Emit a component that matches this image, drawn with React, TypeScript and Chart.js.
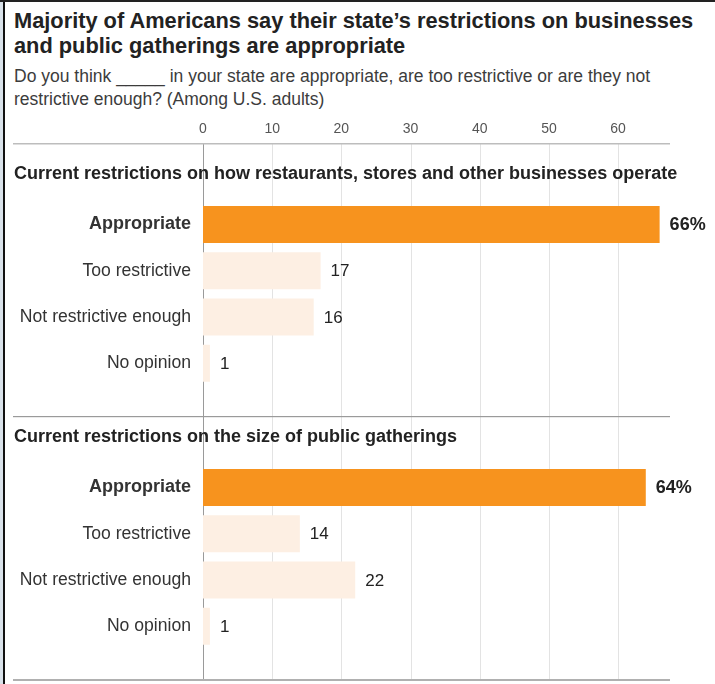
import React, { useEffect, useRef } from 'react';
import { Chart, registerables } from 'chart.js';

Chart.register(...registerables);

const titleLines = [
  'Majority of Americans say their state’s restrictions on businesses',
  'and public gatherings are appropriate',
];
const subtitleLines = [
  'Do you think _____ in your state are appropriate, are too restrictive or are they not',
  'restrictive enough? (Among U.S. adults)',
];
const sectionTitles = [
  'Current restrictions on how restaurants, stores and other businesses operate',
  'Current restrictions on the size of public gatherings',
];
const categories = ['Appropriate', 'Too restrictive', 'Not restrictive enough', 'No opinion'];
const businessValues = [66, 17, 16, 1];
const gatheringValues = [64, 14, 22, 1];
const xTicks = [0, 10, 20, 30, 40, 50, 60];
const X_MAX = 67.5;

const FONT = '"Liberation Sans", Arial, sans-serif';
const ORANGE = '#F7931E';
const LIGHT = '#FDEFE3';

function makeConfig(section: number, values: number[], first: boolean): any {
  const labels = ['', ...categories];
  const data = [null, ...values];
  const colors = ['rgba(0,0,0,0)', ...values.map((_, i) => (i === 0 ? ORANGE : LIGHT))];

  const decor = {
    id: 'decor' + section,
    beforeDatasetsDraw(chart: any) {
      const { ctx, chartArea, scales } = chart;
      const xs = scales.x;
      const ys = scales.y;
      const top = first ? chartArea.top - 11 : 0;
      const bottom = first ? chart.height : chartArea.bottom + 30.5;
      ctx.save();
      xTicks.forEach((v) => {
        const px = Math.round(xs.getPixelForValue(v)) + 0.5;
        ctx.strokeStyle = v === 0 ? '#9a9a9a' : '#e3e3e3';
        ctx.lineWidth = 1;
        ctx.beginPath();
        ctx.moveTo(px, top);
        ctx.lineTo(px, bottom);
        ctx.stroke();
      });
      const right = chartArea.right;
      if (first) {
        ctx.fillStyle = '#bdbdbd';
        ctx.fillRect(13, top - 1, right - 13, 1.5);
      } else {
        ctx.fillStyle = '#9a9a9a';
        ctx.fillRect(13, 0, right - 13, 1.2);
        ctx.fillStyle = '#b0b0b0';
        ctx.fillRect(13, bottom - 1, right - 13, 2);
      }
      ctx.font = `bold 18px ${FONT}`;
      ctx.fillStyle = '#222';
      ctx.textBaseline = 'middle';
      ctx.textAlign = 'left';
      ctx.fillText(sectionTitles[section], 14, ys.getPixelForValue(0) - 4);
      ctx.restore();
    },
    afterDatasetsDraw(chart: any) {
      const { ctx } = chart;
      const meta = chart.getDatasetMeta(0);
      ctx.save();
      ctx.textBaseline = 'middle';
      ctx.textAlign = 'left';
      ctx.fillStyle = '#222';
      values.forEach((v, i) => {
        const el = meta.data[i + 1];
        if (!el) return;
        ctx.font = i === 0 ? `bold 18px ${FONT}` : `17px ${FONT}`;
        ctx.fillText(i === 0 ? `${v}%` : `${v}`, el.x + 10, el.y + 1);
      });
      ctx.restore();
    },
  };

  return {
    type: 'bar',
    data: {
      labels,
      datasets: [
        {
          data,
          backgroundColor: colors,
          borderWidth: 0,
          barPercentage: 0.8,
          categoryPercentage: 1,
        },
      ],
    },
    options: {
      indexAxis: 'y',
      responsive: false,
      animation: false,
      devicePixelRatio: 1,
      layout: { padding: { top: first ? 0 : 2, left: 0, right: 45, bottom: first ? 29.5 : 34.5 } },
      plugins: { legend: { display: false }, tooltip: { enabled: false }, title: { display: false } },
      scales: {
        x: {
          type: 'linear',
          position: 'top',
          display: first,
          min: 0,
          max: X_MAX,
          grid: { display: false, drawTicks: false },
          border: { display: false },
          afterBuildTicks: (scale: any) => {
            scale.ticks = xTicks.map((v) => ({ value: v }));
          },
          afterFit: (scale: any) => {
            scale.height = first ? 45 : 0;
            scale.paddingLeft = 0;
            scale.paddingRight = 0;
          },
          ticks: {
            padding: 17,
            color: '#555',
            font: { family: FONT, size: 14 },
          },
        },
        y: {
          type: 'category',
          grid: { display: false, drawTicks: false },
          border: { display: false },
          afterFit: (scale: any) => {
            scale.width = 203;
            scale.paddingTop = 0;
            scale.paddingBottom = 0;
          },
          ticks: {
            padding: 12,
            color: '#333',
            font: (c: any) => ({
              family: FONT,
              size: c.index === 1 ? 18 : 17.6,
              weight: c.index === 1 ? 'bold' : 'normal',
            }),
          },
        },
      },
    },
    plugins: [decor],
  };
}

function SectionChart(props: { section: number; values: number[]; first: boolean; top: number; height: number }) {
  const ref = useRef<HTMLCanvasElement | null>(null);
  useEffect(() => {
    if (!ref.current) return;
    const chart = new Chart(ref.current, makeConfig(props.section, props.values, props.first));
    return () => chart.destroy();
  }, []);
  return (
    <canvas
      ref={ref}
      width={715}
      height={props.height}
      style={{ position: 'absolute', left: 0, top: props.top, width: 715, height: props.height }}
    />
  );
}

export default function App() {
  return (
    <div
      style={{
        position: 'absolute',
        left: 0,
        top: 0,
        width: 715,
        height: 684,
        background: '#fff',
        overflow: 'hidden',
        fontFamily: FONT,
      }}
    >
      <div style={{ position: 'absolute', left: 0, top: 0, width: 3, height: 684, background: '#d9e2ea' }} />
      <div style={{ position: 'absolute', left: 3, top: 0, width: 2, height: 684, background: '#111' }} />
      <div style={{ position: 'absolute', left: 0, top: 0, width: 715, height: 2, background: '#222' }} />
      <div
        style={{
          position: 'absolute',
          left: 14,
          top: 8,
          fontSize: 21.8,
          lineHeight: '25px',
          fontWeight: 'bold',
          color: '#222',
          whiteSpace: 'nowrap',
        }}
      >
        {titleLines.map((t, i) => (
          <div key={i}>{t}</div>
        ))}
      </div>
      <div
        style={{
          position: 'absolute',
          left: 14,
          top: 65,
          fontSize: 17.5,
          lineHeight: '23px',
          color: '#3c3c3c',
          whiteSpace: 'nowrap',
        }}
      >
        {subtitleLines.map((t, i) => (
          <div key={i}>{t}</div>
        ))}
      </div>
      <SectionChart section={0} values={businessValues} first={true} top={110} height={306} />
      <SectionChart section={1} values={gatheringValues} first={false} top={416} height={268} />
    </div>
  );
}
